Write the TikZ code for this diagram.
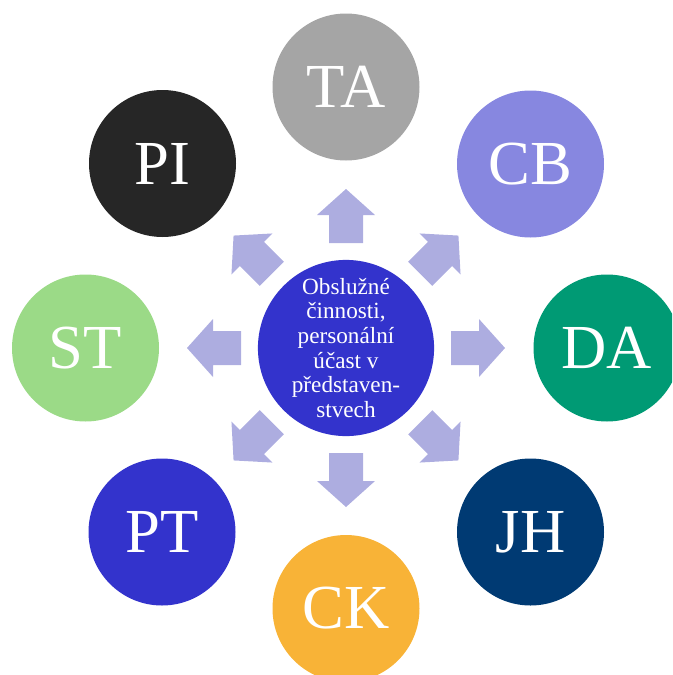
\documentclass[tikz,border=0pt]{standalone}
\usepackage{fontspec}
\setmainfont{Liberation Serif}
\usetikzlibrary{calc}

\definecolor{taGray}{RGB}{165,165,165}
\definecolor{cbLilac}{RGB}{135,135,224}
\definecolor{daGreen}{RGB}{0,154,116}
\definecolor{jhNavy}{RGB}{0,58,115}
\definecolor{ckOrange}{RGB}{248,179,55}
\definecolor{ptBlue}{RGB}{51,51,204}
\definecolor{stGreen}{RGB}{155,218,135}
\definecolor{piBlack}{RGB}{38,38,38}
\definecolor{arrowLav}{RGB}{173,173,224}

\tikzset{
  outer/.style={circle, minimum size=110.25pt, inner sep=0pt, text=white,
    font=\fontsize{47}{47}\selectfont},
  hub/.style={circle, minimum size=123pt, inner sep=0pt, text=white, fill=ptBlue,
    align=center, font=\fontsize{17.4}{18.5}\selectfont},
  blockarrow/.style={fill=arrowLav, draw=none}
}

\begin{document}
\begin{tikzpicture}[x=0.75pt,y=0.75pt,yscale=-1,xscale=1]
	%set diagram size to 672 x 675
	\useasboundingbox (0,0) rectangle (672,675);
	\clip (0,0) rectangle (672,675);
	
	%Centre circle
	\node [hub] (hub) at (346,348) {Obslužné\\činnosti,\\personální\\účast v\\představen-\\stvech};
	
	%Outer circles
	\node [outer, fill=taGray] (ta) at (346,87) {TA};
	\node [outer, fill=cbLilac] (cb) at (530.5,164) {CB};
	\node [outer, fill=daGreen] (da) at (607,348) {DA};
	\node [outer, fill=jhNavy] (jh) at (530.5,532) {JH};
	\node [outer, fill=ckOrange] (ck) at (346,608.5) {CK};
	\node [outer, fill=ptBlue] (pt) at (162,532) {PT};
	\node [outer, fill=stGreen] (st) at (85.5,348) {ST};
	\node [outer, fill=piBlack] (pi) at (162.5,163.5) {PI};
	
	%Block arrows from the centre
	\foreach \a in {0,45,...,315} {
		\begin{scope}[shift={(hub.center)}, rotate=\a]
			\fill [blockarrow] (105,-17) -- (133,-17) -- (133,-29) -- (159,0) -- (133,29) -- (133,17) -- (105,17) -- cycle;
		\end{scope}
	}
	
\end{tikzpicture}
\end{document}
